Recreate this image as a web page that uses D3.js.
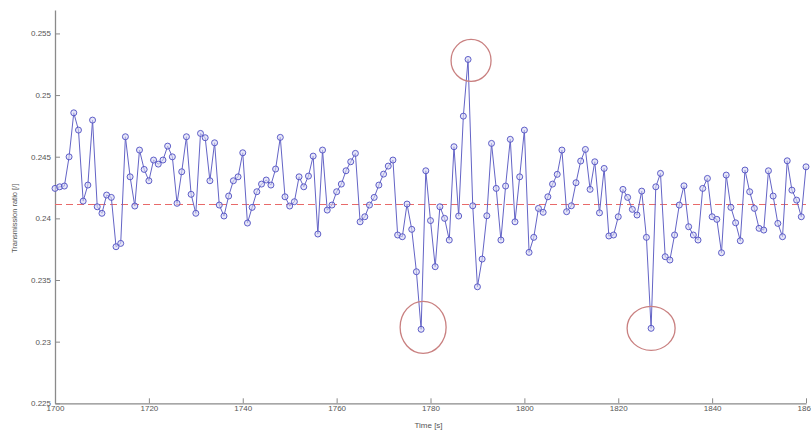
<!DOCTYPE html>
<html>
<head>
<meta charset="utf-8">
<script src="https://cdn.jsdelivr.net/npm/d3@7"></script>
<style>
  html, body { margin: 0; padding: 0; background: #fff; }
  svg { display: block; }
  text { font-family: "Liberation Sans", Arial, sans-serif; }
</style>
</head>
<body>
<svg id="chart" width="811" height="434"></svg>
<script>
// ---- data ----
const startTime = 1700;   // first sample [s], one sample per second
const ratioValues = [
  0.24243, 0.24256, 0.24262, 0.24499, 0.24856, 0.24716, 0.24140, 0.24270, 0.24797, 0.24094,
  0.24041, 0.24189, 0.24170, 0.23770, 0.23797, 0.24662, 0.24337, 0.24100, 0.24554, 0.24397,
  0.24305, 0.24473, 0.24440, 0.24473, 0.24586, 0.24499, 0.24122, 0.24378, 0.24662, 0.24195,
  0.24041, 0.24689, 0.24654, 0.24305, 0.24613, 0.24108, 0.24019, 0.24181, 0.24305, 0.24337,
  0.24532, 0.23962, 0.24089, 0.24216, 0.24278, 0.24311, 0.24270, 0.24400, 0.24657, 0.24175,
  0.24100, 0.24135, 0.24337, 0.24256, 0.24343, 0.24505, 0.23873, 0.24554, 0.24067, 0.24108,
  0.24216, 0.24278, 0.24386, 0.24459, 0.24527, 0.23972, 0.24013, 0.24108, 0.24170, 0.24270,
  0.24359, 0.24424, 0.24473, 0.23865, 0.23851, 0.24116, 0.23911, 0.23567, 0.23100, 0.24386,
  0.23982, 0.23608, 0.24094, 0.24000, 0.23824, 0.24581, 0.24019, 0.24829, 0.25289, 0.24102,
  0.23445, 0.23670, 0.24021, 0.24608, 0.24243, 0.23824, 0.24262, 0.24641, 0.23972, 0.24337,
  0.24716, 0.23724, 0.23846, 0.24081, 0.24049, 0.24175, 0.24278, 0.24357, 0.24554, 0.24054,
  0.24102, 0.24289, 0.24465, 0.24559, 0.24235, 0.24459, 0.24045, 0.24405, 0.23857, 0.23865,
  0.24013, 0.24235, 0.24170, 0.24073, 0.24027, 0.24221, 0.23846, 0.23108, 0.24256, 0.24365,
  0.23689, 0.23662, 0.23865, 0.24108, 0.24264, 0.23932, 0.23865, 0.23824, 0.24243, 0.24324,
  0.24013, 0.23992, 0.23721, 0.24351, 0.24089, 0.23964, 0.23818, 0.24392, 0.24216, 0.24081,
  0.23919, 0.23905, 0.24386, 0.24181, 0.23959, 0.23851, 0.24467, 0.24229, 0.24148, 0.24013,
  0.24418
];
const meanRatio = 0.2412;
const xTicks = [1700, 1720, 1740, 1760, 1780, 1800, 1820, 1840, 1860];
const yTicks = [0.225, 0.23, 0.235, 0.24, 0.245, 0.25, 0.255];
const yTickLabels = ["0.225", "0.23", "0.235", "0.24", "0.245", "0.25", "0.255"];
const circledIdx = [78, 88, 127];   // hand-drawn red circles
const xLabel = "Time [s]";
const yLabel = "Transmission ratio [/]";

(function () {
// ---- layout ----
const svg = d3.select("#chart");
const mLeft = 55, mRight = 806, mTop = 10, mBottom = 403.3;
const x = d3.scaleLinear().domain([1700, 1860]).range([mLeft, mRight]);
const y = d3.scaleLinear().domain([0.225, 0.2569]).range([mBottom, mTop]);

const data = ratioValues.map((v, i) => ({ t: startTime + i, v }));

// axes (Matlab-like, ticks pointing inward)
const axisColor = "#8a8a8a";
const gx = svg.append("g").attr("transform", `translate(0,${mBottom})`)
  .call(d3.axisBottom(x).tickValues(xTicks).tickFormat(d3.format("d")).tickSizeInner(-5).tickSizeOuter(0).tickPadding(3));
const gy = svg.append("g").attr("transform", `translate(${mLeft},0)`)
  .call(d3.axisLeft(y).tickValues(yTicks).tickFormat((d, i) => yTickLabels[i]).tickSizeInner(-5).tickSizeOuter(0).tickPadding(4));
[gx, gy].forEach(g => {
  g.selectAll("path.domain").attr("stroke", axisColor).attr("stroke-width", 1.3);
  g.selectAll(".tick line").attr("stroke", axisColor).attr("stroke-width", 1);
  g.selectAll(".tick text").attr("fill", "#555").attr("font-size", 8);
});
gx.selectAll(".tick text").attr("dy", "0.6em");

svg.append("text").attr("x", (mLeft + mRight) / 2 - 2).attr("y", 428)
  .attr("text-anchor", "middle").attr("font-size", 8).attr("fill", "#555").text(xLabel);
svg.append("text").attr("transform", `translate(17,${(y(0.225) + y(0.255)) / 2}) rotate(-90)`)
  .attr("text-anchor", "middle").attr("font-size", 7.5).attr("fill", "#555").text(yLabel);

// mean line (dashed red)
const yMean = Math.round(y(meanRatio)) + 0.5;
svg.append("line")
  .attr("x1", x(1700)).attr("x2", x(1860))
  .attr("y1", yMean).attr("y2", yMean)
  .attr("stroke", "#e86a6a").attr("stroke-width", 1.2).attr("stroke-dasharray", "7,4");

// data line
const line = d3.line().x(d => x(d.t)).y(d => y(d.v));
svg.append("path").datum(data)
  .attr("d", line).attr("fill", "none")
  .attr("stroke", "#6464c6").attr("stroke-width", 1);

svg.append("g").selectAll("circle").data(data).join("circle")
  .attr("cx", d => x(d.t)).attr("cy", d => y(d.v)).attr("r", 3)
  .attr("fill", "rgba(215,215,244,0.6)").attr("stroke", "#4e4ec2").attr("stroke-width", 0.9);

// hand-drawn annotation circles
const annot = [
  { i: circledIdx[0], dx: 2, dy: -2, rx: 23, ry: 26 },
  { i: circledIdx[1], dx: 3, dy: 1, rx: 20, ry: 21 },
  { i: circledIdx[2], dx: 0, dy: 0, rx: 24, ry: 22 }
];
svg.append("g").selectAll("ellipse").data(annot).join("ellipse")
  .attr("cx", d => x(data[d.i].t) + d.dx).attr("cy", d => y(data[d.i].v) + d.dy)
  .attr("rx", d => d.rx).attr("ry", d => d.ry)
  .attr("fill", "none").attr("stroke", "#c98080").attr("stroke-width", 1.3);
})();
</script>
</body>
</html>
